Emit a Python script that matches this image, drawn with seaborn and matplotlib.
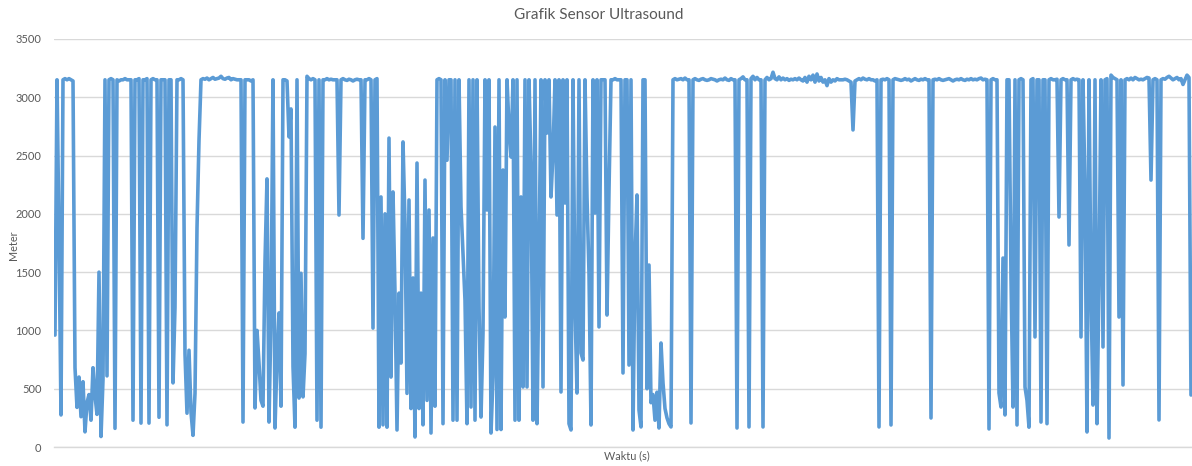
import numpy as np
import pandas as pd
import matplotlib
matplotlib.use("Agg")
import matplotlib.pyplot as plt
import seaborn as sns

title = "Grafik Sensor Ultrasound"
x_label = "Waktu (s)"
y_label = "Meter"
y_ticks = [0, 500, 1000, 1500, 2000, 2500, 3000, 3500]

# sensor readings, in sample order
seg01 = [960, 3150, 1800, 275, 3150, 3160, 3150, 3160, 3150, 3140]
seg02 = [680, 340, 600, 260, 560, 130, 380, 450, 230, 680, 440, 280, 1500, 90, 580, 3150, 610]
seg03 = [3150, 3160, 3150, 160, 3150, 3140, 3150, 3150, 3160, 3150,
         3150, 3150, 230, 3150, 3150, 3160, 205, 3150, 3150, 3160,
         205, 3150, 3160, 3150, 3150, 255, 3150, 3150, 3150, 190,
         3150, 3150, 550, 1200, 3150, 3150, 3160, 3150, 800, 290,
         830, 300, 100, 460, 1880, 2630]
seg04 = [3150, 3160, 3155, 3165, 3150, 3160, 3170, 3155, 3160, 3165, 3180,
         3160, 3155, 3165, 3170, 3150, 3160, 3155, 3150, 3150, 3150]
seg05 = [214, 3150, 3150, 3150, 3140, 3150, 335, 1000, 720, 400, 350,
         1590, 2300, 214, 1115, 3150, 163, 760, 1150, 350, 3150]
seg06 = [3150, 3140, 2660, 2900, 690, 170, 3150, 420, 1490, 430, 800, 3180]
seg07 = [3160, 3150, 3160, 3150, 230, 3150, 170, 3150, 3150, 3160,
         3150, 3155, 3150, 3150, 3150, 1990, 3150, 3160, 3150, 3145,
         3155, 3150, 3140, 3150, 3155, 3150, 3150, 1790, 3150, 3150,
         3160, 3150, 1020, 3150, 3160]
seg08 = [170, 2145, 190, 2000, 170, 2650, 600, 2188, 1320, 146,
         1320, 720, 2617, 1921, 460, 2119, 330, 1450, 86, 2436,
         330, 1320, 190, 2290, 400, 2033, 120, 1793, 350, 3150]
seg09 = [3160, 3150, 200, 3150, 2460, 3150, 3150]
seg10 = [230, 3150, 230, 3150, 2060, 1670, 1260, 200, 3150, 343,
         3150, 230, 3150, 1200, 257, 976, 3150, 2033, 3150, 120,
         600, 2745, 150, 3150, 150, 2376, 1115, 3150, 2745, 2488,
         3150, 230, 3150, 230, 2145, 515, 3150, 515, 3150, 2402,
         230, 3150, 200, 1578, 3150, 515, 3150, 2694, 3150, 2145,
         2522, 3150, 1990, 3150, 472, 3150, 2093, 3150, 200, 146,
         3150, 1200, 463, 3150, 806, 746, 3150, 2140, 1490, 189,
         3150, 2007, 3150, 1030, 3150, 3150, 3150, 1132, 2205, 3150]
seg11 = [3150, 3160, 3150, 3150, 3150, 635, 3150, 3150, 703, 3150,
         146, 1604, 2162, 317, 172, 3150, 3150, 500, 1561, 380,
         450, 230, 470, 163, 892, 550, 330, 250, 200, 172]
seg12 = [3150, 3160, 3150, 3155, 3160, 3150, 3165, 3150, 3150, 206,
         3150, 3160, 3150, 3145, 3155, 3160, 3150, 3145, 3150, 3160,
         3155, 3150, 3140, 3150, 3155, 3150, 3165, 3150, 3145, 3160,
         3150, 3150, 163, 3150, 3160, 3175, 3150, 3150, 172, 3160,
         3180, 3150, 3170, 3150, 3150]
seg13 = [172, 3150, 3170, 3150, 3160, 3215, 3160, 3150, 3175, 3150,
         3165, 3150, 3160, 3145, 3155, 3150, 3160, 3150, 3165, 3150,
         3140, 3170, 3130, 3180, 3150, 3190, 3130, 3200, 3140, 3170,
         3130, 3150, 3100, 3160, 3130, 3150, 3140, 3160, 3150, 3150,
         3150, 3155, 3150, 3140, 3130]
seg14 = [2720, 3140, 3150, 3160, 3150, 3165, 3155, 3150, 3160, 3150,
         3150, 3140, 3150, 172, 3150, 3155, 3150, 3160, 3150, 189,
         3150, 3160, 3155, 3150, 3145, 3150, 3160, 3150, 3155, 3140,
         3150, 3160, 3150, 3145, 3155, 3150, 3160, 3150, 3150, 249,
         3150, 3155, 3150, 3160, 3150, 3145, 3150, 3155, 3160, 3150,
         3140, 3150, 3155, 3150, 3160, 3150, 3145, 3155, 3150, 3160,
         3150, 3155, 3150, 3160, 3165, 3150, 3155, 3150, 155, 3150,
         3160, 3150, 3150, 463]
seg15 = [343, 1621, 275, 3150, 3150, 1450, 343, 3150, 189, 3150,
         3160, 3150, 515, 400, 170, 3150, 3160, 944, 3150, 3150,
         214, 3150, 3150, 200, 3150, 3160, 3150, 3150, 3155, 1973,
         3150, 3160, 3150, 3150, 1733, 3150, 3160, 3150, 3155, 3150,
         944, 3150, 2205, 129, 3150, 1320, 360, 3150, 200, 1433,
         3150, 858, 3150, 3160, 77, 3190, 3170, 3160, 3150, 1115,
         3150, 532, 3150, 3160, 3150, 3165, 3150, 3170, 3160, 3150,
         3155, 3150, 3160, 3170, 3165, 2290, 3150, 3160, 3150, 232,
         3150, 3160, 3155, 3170, 3180, 3165, 3150, 3160, 3170, 3150,
         3160, 3110, 3150, 3190, 3170, 446]

meter = (seg01 + seg02 + seg03 + seg04 + seg05 + seg06 + seg07 + seg08 +
         seg09 + seg10 + seg11 + seg12 + seg13 + seg14 + seg15)
waktu = list(range(len(meter)))

df = pd.DataFrame({"waktu": waktu, "meter": meter})

sns.set_theme(style="white")
plt.rcParams["font.family"] = ["Lato", "DejaVu Sans"]

W, H = 1192, 466
fig = plt.figure(figsize=(W / 100, H / 100), dpi=100)
ax = fig.add_axes([54 / W, 1 - 447 / H, (1192 - 54) / W, (447 - 39) / H])

sns.lineplot(data=df, x="waktu", y="meter", ax=ax, color="#5B9BD5",
             linewidth=2.6, solid_joinstyle="round", solid_capstyle="round")

ax.set_xlim(-0.5, len(meter) - 0.5)
ax.set_ylim(0, 3500)
ax.set_yticks(y_ticks)
ax.set_yticklabels([str(v) for v in y_ticks])
ax.set_xticks([])
ax.tick_params(axis="y", length=0, pad=9, labelsize=8, labelcolor="#595959")
ax.grid(axis="y", color="#D9D9D9", linewidth=1)
ax.set_axisbelow(True)
for s in ["top", "right", "left"]:
    ax.spines[s].set_visible(False)
ax.spines["bottom"].set_color("#D9D9D9")
ax.spines["bottom"].set_linewidth(1)

ax.set_xlabel("")
ax.set_ylabel("")
fig.text(627 / W, 1 - 456 / H, x_label, ha="center", va="center",
         fontsize=7.8, color="#595959")
fig.text(13 / W, 1 - 245 / H, y_label, ha="center", va="center",
         rotation=90, fontsize=7.8, color="#595959")
fig.text(599 / W, 1 - 15 / H, title, ha="center", va="center",
         fontsize=11, color="#595959")

fig.savefig("out.png", dpi=100)
